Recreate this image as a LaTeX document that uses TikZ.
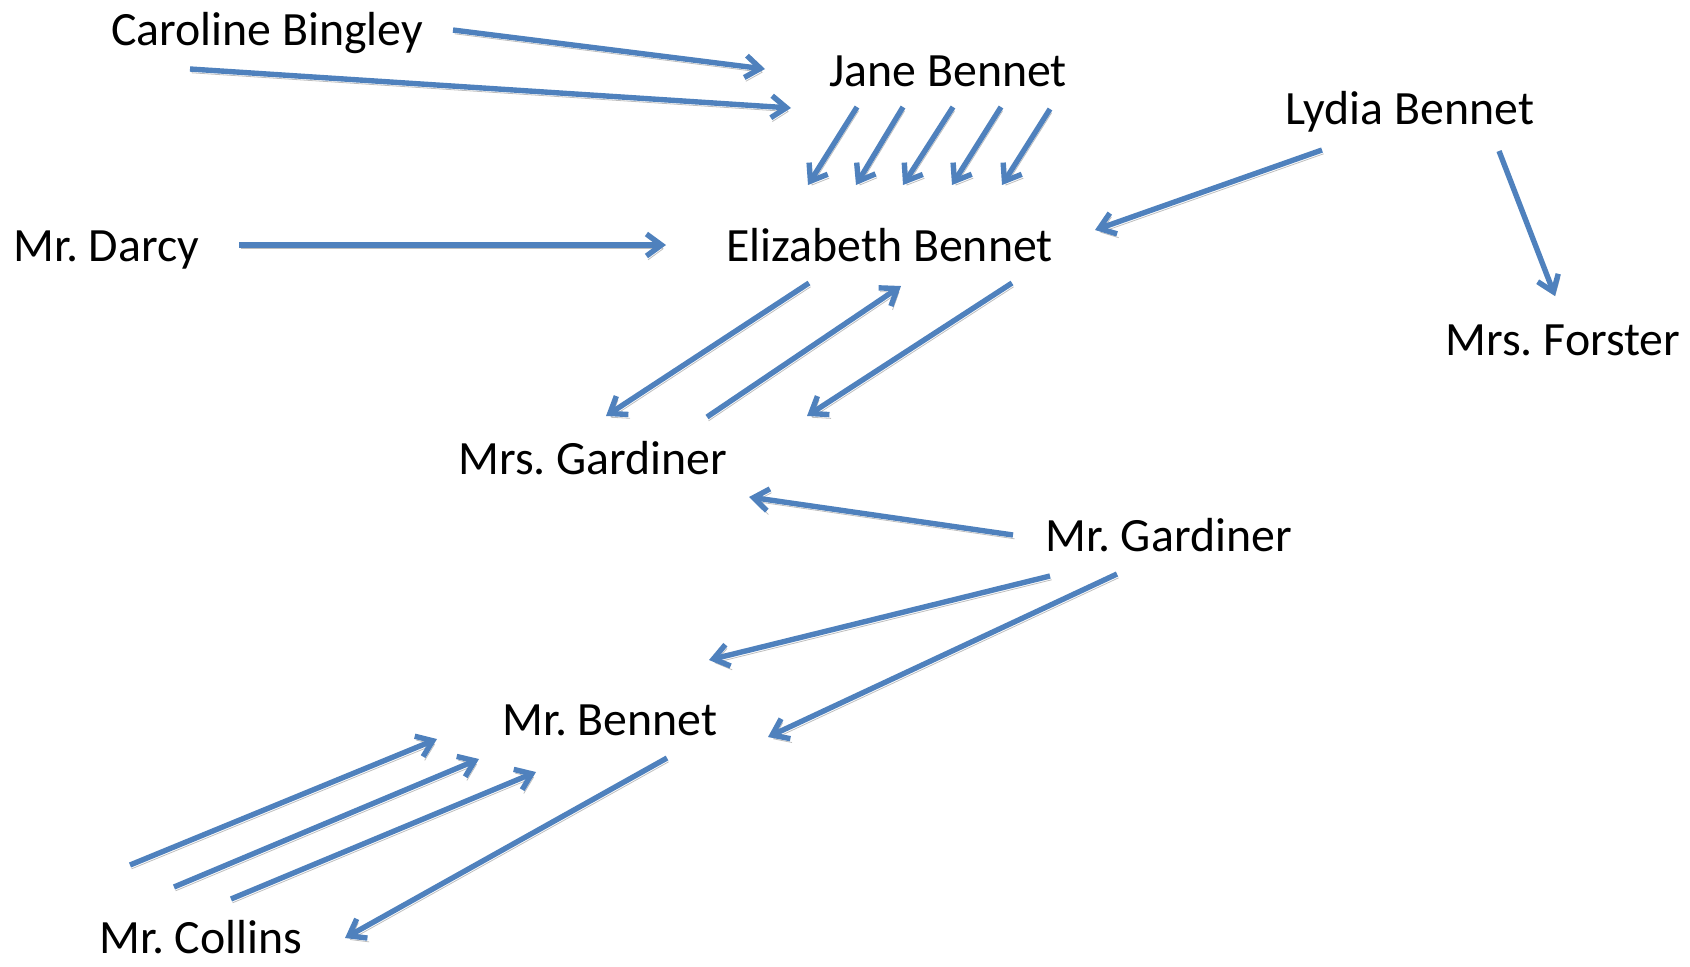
\documentclass[tikz,border=0pt]{standalone}
\usepackage{fontspec}
\setmainfont{Carlito}
\usetikzlibrary{arrows.meta}
\definecolor{arrowblue}{HTML}{4F81BD}
\definecolor{shadowgray}{HTML}{BEBEBE}
\frenchspacing
\tikzset{
  person/.style={anchor=base west, inner sep=0pt, font=\fontsize{23.9pt}{28pt}\selectfont, text=black},
  link/.style={draw=arrowblue, line width=2.7pt,
    -{Straight Barb[length=7.5pt,width=11pt]},
    preaction={draw=shadowgray, transform canvas={shift={(0.8pt,-1.9pt)}}}},
}
\begin{document}
\begin{tikzpicture}[x=0.5pt,y=-0.5pt]
\useasboundingbox (0,0) rectangle (1690,966);
% people
\node[person] (caroline) at (111,45) {Caroline Bingley};
\node[person] (jane) at (829,86) {Jane Bennet};
\node[person] (lydia) at (1285,124) {Lydia Bennet};
\node[person] (darcy) at (13,261) {Mr. Darcy};
\node[person] (elizabeth) at (726,261) {Elizabeth Bennet};
\node[person] (forster) at (1445,355) {Mrs. Forster};
\node[person] (mrsgardiner) at (458,474) {Mrs. Gardiner};
\node[person] (mrgardiner) at (1045,551) {Mr. Gardiner};
\node[person] (mrbennet) at (502,735) {Mr. Bennet};
\node[person] (collins) at (99,953) {Mr. Collins};
% Caroline -> Jane
\draw[link] ([shift={(342,-15)}]caroline.base west) -- ([shift={(-64,-17)}]jane.base west);
\draw[link] ([shift={(79,24)}]caroline.base west) -- ([shift={(-38,22)}]jane.base west);
% Jane -> Elizabeth
\draw[link] ([shift={(28,21)}]jane.base west) -- ([shift={(82,-76)}]elizabeth.base west);
\draw[link] ([shift={(74,21)}]jane.base west) -- ([shift={(130,-76)}]elizabeth.base west);
\draw[link] ([shift={(124,21)}]jane.base west) -- ([shift={(177,-76)}]elizabeth.base west);
\draw[link] ([shift={(172,21)}]jane.base west) -- ([shift={(226,-76)}]elizabeth.base west);
\draw[link] ([shift={(221,23)}]jane.base west) -- ([shift={(276,-76)}]elizabeth.base west);
% Lydia
\draw[link] ([shift={(37,26)}]lydia.base west) -- ([shift={(369,-31)}]elizabeth.base west);
\draw[link] ([shift={(214,27)}]lydia.base west) -- ([shift={(110,-59)}]forster.base west);
% Darcy -> Elizabeth
\draw[link] ([shift={(226,-16)}]darcy.base west) -- ([shift={(-60,-16)}]elizabeth.base west);
% Elizabeth <-> Mrs. Gardiner
\draw[link] ([shift={(83,22)}]elizabeth.base west) -- ([shift={(148,-58)}]mrsgardiner.base west);
\draw[link] ([shift={(249,-57)}]mrsgardiner.base west) -- ([shift={(175,25)}]elizabeth.base west);
\draw[link] ([shift={(286,22)}]elizabeth.base west) -- ([shift={(349,-58)}]mrsgardiner.base west);
% Mr. Gardiner
\draw[link] ([shift={(-32,-16)}]mrgardiner.base west) -- ([shift={(291,23)}]mrsgardiner.base west);
\draw[link] ([shift={(5,25)}]mrgardiner.base west) -- ([shift={(207,-75)}]mrbennet.base west);
\draw[link] ([shift={(72,23)}]mrgardiner.base west) -- ([shift={(266,2)}]mrbennet.base west);
% Collins <-> Mr. Bennet
\draw[link] ([shift={(31,-88)}]collins.base west) -- ([shift={(-65,4)}]mrbennet.base west);
\draw[link] ([shift={(75,-66)}]collins.base west) -- ([shift={(-23,24)}]mrbennet.base west);
\draw[link] ([shift={(132,-54)}]collins.base west) -- ([shift={(34,37)}]mrbennet.base west);
\draw[link] ([shift={(165,23)}]mrbennet.base west) -- ([shift={(246,-15)}]collins.base west);
\end{tikzpicture}
\end{document}
